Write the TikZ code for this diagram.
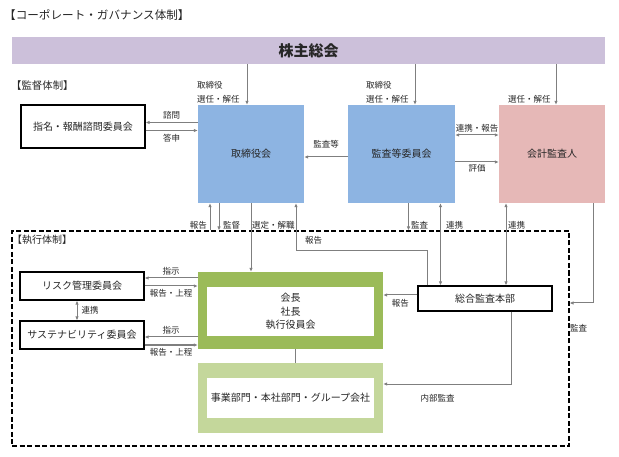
\documentclass[tikz,border=0pt]{standalone}
\usepackage{fontspec}
\setmainfont{Noto Sans CJK JP}
\usepackage{tikz}
\usetikzlibrary{arrows.meta}
\usepackage{xcolor}
\definecolor{lav}{HTML}{CCC0DA}
\definecolor{bblue}{HTML}{8DB4E2}
\definecolor{bpink}{HTML}{E6B8B7}
\definecolor{bgreen}{HTML}{9BBB59}
\definecolor{lgreen}{HTML}{C4D79B}
\definecolor{agray}{HTML}{7F7F7F}
\definecolor{txt}{HTML}{262626}

\begin{document}
\begin{tikzpicture}[x=1pt,y=-1pt]
\tikzset{>={Latex[width=3.5pt,length=4pt]}}
\tikzstyle{box}=[rectangle, inner sep=0pt, font=\fontsize{10}{13.5}\selectfont, text=txt]
\tikzstyle{wbox}=[box, draw=black, line width=1.2pt, fill=white]
\tikzstyle{lbl}=[inner sep=1pt, font=\fontsize{8.5}{13.5}\selectfont, text=txt]
\tikzstyle{arr}=[draw=agray, line width=1pt]
\useasboundingbox (0,0) rectangle (619,457);

\node[box, anchor=west, font=\fontsize{11.6}{13}\selectfont] (title) at (4,15) {【コーポレート・ガバナンス体制】};
\node[box, fill=lav, minimum width=593pt, minimum height=27pt] (soukai) at (308.5,50.5) {\fontsize{15}{18}\selectfont\bfseries 株主総会};
\node[box, anchor=west, font=\fontsize{10.4}{13}\selectfont] (kantoku) at (11,86) {【監督体制】};

\node[wbox, minimum width=124pt, minimum height=43pt] (shimei) at (83,126.5) {指名・報酬諮問委員会};
\node[box, fill=bblue, minimum width=106pt, minimum height=98pt] (tori) at (251,154) {取締役会};
\node[box, fill=bblue, minimum width=107pt, minimum height=98pt] (kansa) at (401.5,154) {監査等委員会};
\node[box, fill=bpink, minimum width=106pt, minimum height=98pt] (kaikei) at (552,154) {会計監査人};

\node[draw=black, line width=1.1pt, dash pattern=on 5pt off 2.5pt, minimum width=557pt, minimum height=215pt, inner sep=0pt] (exec) at (290.5,338.5) {};
\node[box, anchor=west, font=\fontsize{10}{13}\selectfont] (shikkou) at (12,240) {【執行体制】};

\node[wbox, minimum width=124pt, minimum height=28pt] (risk) at (82,286) {リスク管理委員会};
\node[wbox, minimum width=124pt, minimum height=28pt] (sustain) at (82,335) {サステナビリティ委員会};
\node[box, fill=bgreen, minimum width=185pt, minimum height=77pt] (kaichou) at (290.5,310.5) {};
\node[box, fill=white, minimum width=167pt, minimum height=49pt, align=center] (kaichouin) at (290.5,311.5) {会長\\社長\\執行役員会};
\node[box, fill=lgreen, minimum width=185pt, minimum height=70pt] (jigyou) at (290.5,398) {};
\node[box, fill=white, minimum width=167pt, minimum height=40pt] (jigyouin) at (290.5,398) {事業部門・本社部門・グループ会社};
\node[wbox, minimum width=134pt, minimum height=25pt] (honbu) at (485,298.5) {総合監査本部};

\draw[arr,->] ([xshift=-4pt]tori.north |- soukai.south) -- ([xshift=-4pt]tori.north);
\draw[arr,->] ([xshift=13.5pt]kansa.north |- soukai.south) -- ([xshift=13.5pt]kansa.north);
\draw[arr,->] ([xshift=4pt]kaikei.north |- soukai.south) -- ([xshift=4pt]kaikei.north);
\node[lbl, anchor=south west, align=left] (l1) at (196,104) {取締役\\選任・解任};
\node[lbl, anchor=south west, align=left] (l2) at (365,104) {取締役\\選任・解任};
\node[lbl, anchor=south west] (l3) at (507,104) {選任・解任};

\draw[arr,->] ([yshift=4pt]shimei.east -| tori.west) -- node[lbl, above=2pt] (l4) {諮問} ([yshift=4pt]shimei.east);
\draw[arr,->] ([yshift=-4pt]shimei.east) -- node[lbl, below=2pt] (l5) {答申} ([yshift=-4pt]shimei.east -| tori.west);
\draw[arr,->] ([yshift=-3pt]kansa.west) -- node[lbl, above=7pt] (l6) {監査等} ([yshift=-3pt]kansa.west -| tori.east);
\draw[arr,<->] ([yshift=19pt]kansa.east) -- node[lbl, above=1pt] (l7) {連携・報告} ([yshift=19pt]kansa.east -| kaikei.west);
\draw[arr,->] ([yshift=-8pt]kansa.east) -- node[lbl, below=1pt] (l8) {評価} ([yshift=-8pt]kansa.east -| kaikei.west);

\draw[arr,->] ([xshift=-41pt]tori.south |- exec.north) -- ([xshift=-41pt]tori.south);
\draw[arr,->] ([xshift=-32pt]tori.south) -- ([xshift=-32pt]tori.south |- exec.north);
\draw[arr,->] (tori.south) -- (tori.south |- kaichou.north);
\draw[arr,->] ([xshift=10pt]honbu.north west) -- ++(0,-35) -| ([xshift=45pt]tori.south);
\draw[arr,->] ([xshift=7pt]kansa.south) -- ([xshift=7pt]kansa.south |- exec.north);
\draw[arr,<->] ([xshift=39pt]kansa.south) -- ([xshift=39pt]kansa.south |- honbu.north);
\draw[arr,<->] ([xshift=-46pt]kaikei.south) -- ([xshift=-46pt]kaikei.south |- honbu.north);
\draw[arr,->] ([xshift=41pt]kaikei.south) |- ([yshift=35.5pt]exec.east);
\node[lbl, anchor=east] (l9) at (208,225) {報告};
\node[lbl, anchor=west] (l10) at (222,225) {監督};
\node[lbl, anchor=west] (l11) at (251,225) {選定・解職};
\node[lbl, anchor=west] (l12) at (304,240) {報告};
\node[lbl, anchor=west] (l13) at (410,225) {監査};
\node[lbl, anchor=west] (l14) at (445,225) {連携};
\node[lbl, anchor=west] (l15) at (507,225) {連携};
\node[lbl, anchor=west] (l16) at (569,328) {監査};

\draw[arr,->] ([yshift=8pt]risk.east -| kaichou.west) -- node[lbl, above=1pt] (l17) {指示} ([yshift=8pt]risk.east);
\draw[arr,->] (risk.east) -- node[lbl, below=2pt] (l18) {報告・上程} (risk.east -| kaichou.west);
\draw[arr,->] ([yshift=-2pt]sustain.east -| kaichou.west) -- node[lbl, above=1pt] (l19) {指示} ([yshift=-2pt]sustain.east);
\draw[arr,->] ([yshift=-10pt]sustain.east) -- node[lbl, below=2pt] (l20) {報告・上程} ([yshift=-10pt]sustain.east -| kaichou.west);
\draw[arr,<->] ([xshift=-5pt]risk.south) -- node[lbl, right=3pt] (l21) {連携} ([xshift=-5pt]sustain.north);

\draw[arr,->] ([yshift=3.5pt]honbu.west) -- node[lbl, below=3pt] (l22) {報告} ([yshift=3.5pt]honbu.west -| kaichou.east);
\draw[arr] ([xshift=4.5pt]kaichou.south) -- ([xshift=4.5pt]jigyou.north);
\draw[arr,->] ([xshift=26pt]honbu.south) |- ([yshift=14pt]jigyou.east);
\node[lbl] (l23) at (437.5,398) {内部監査};
\end{tikzpicture}
\end{document}
